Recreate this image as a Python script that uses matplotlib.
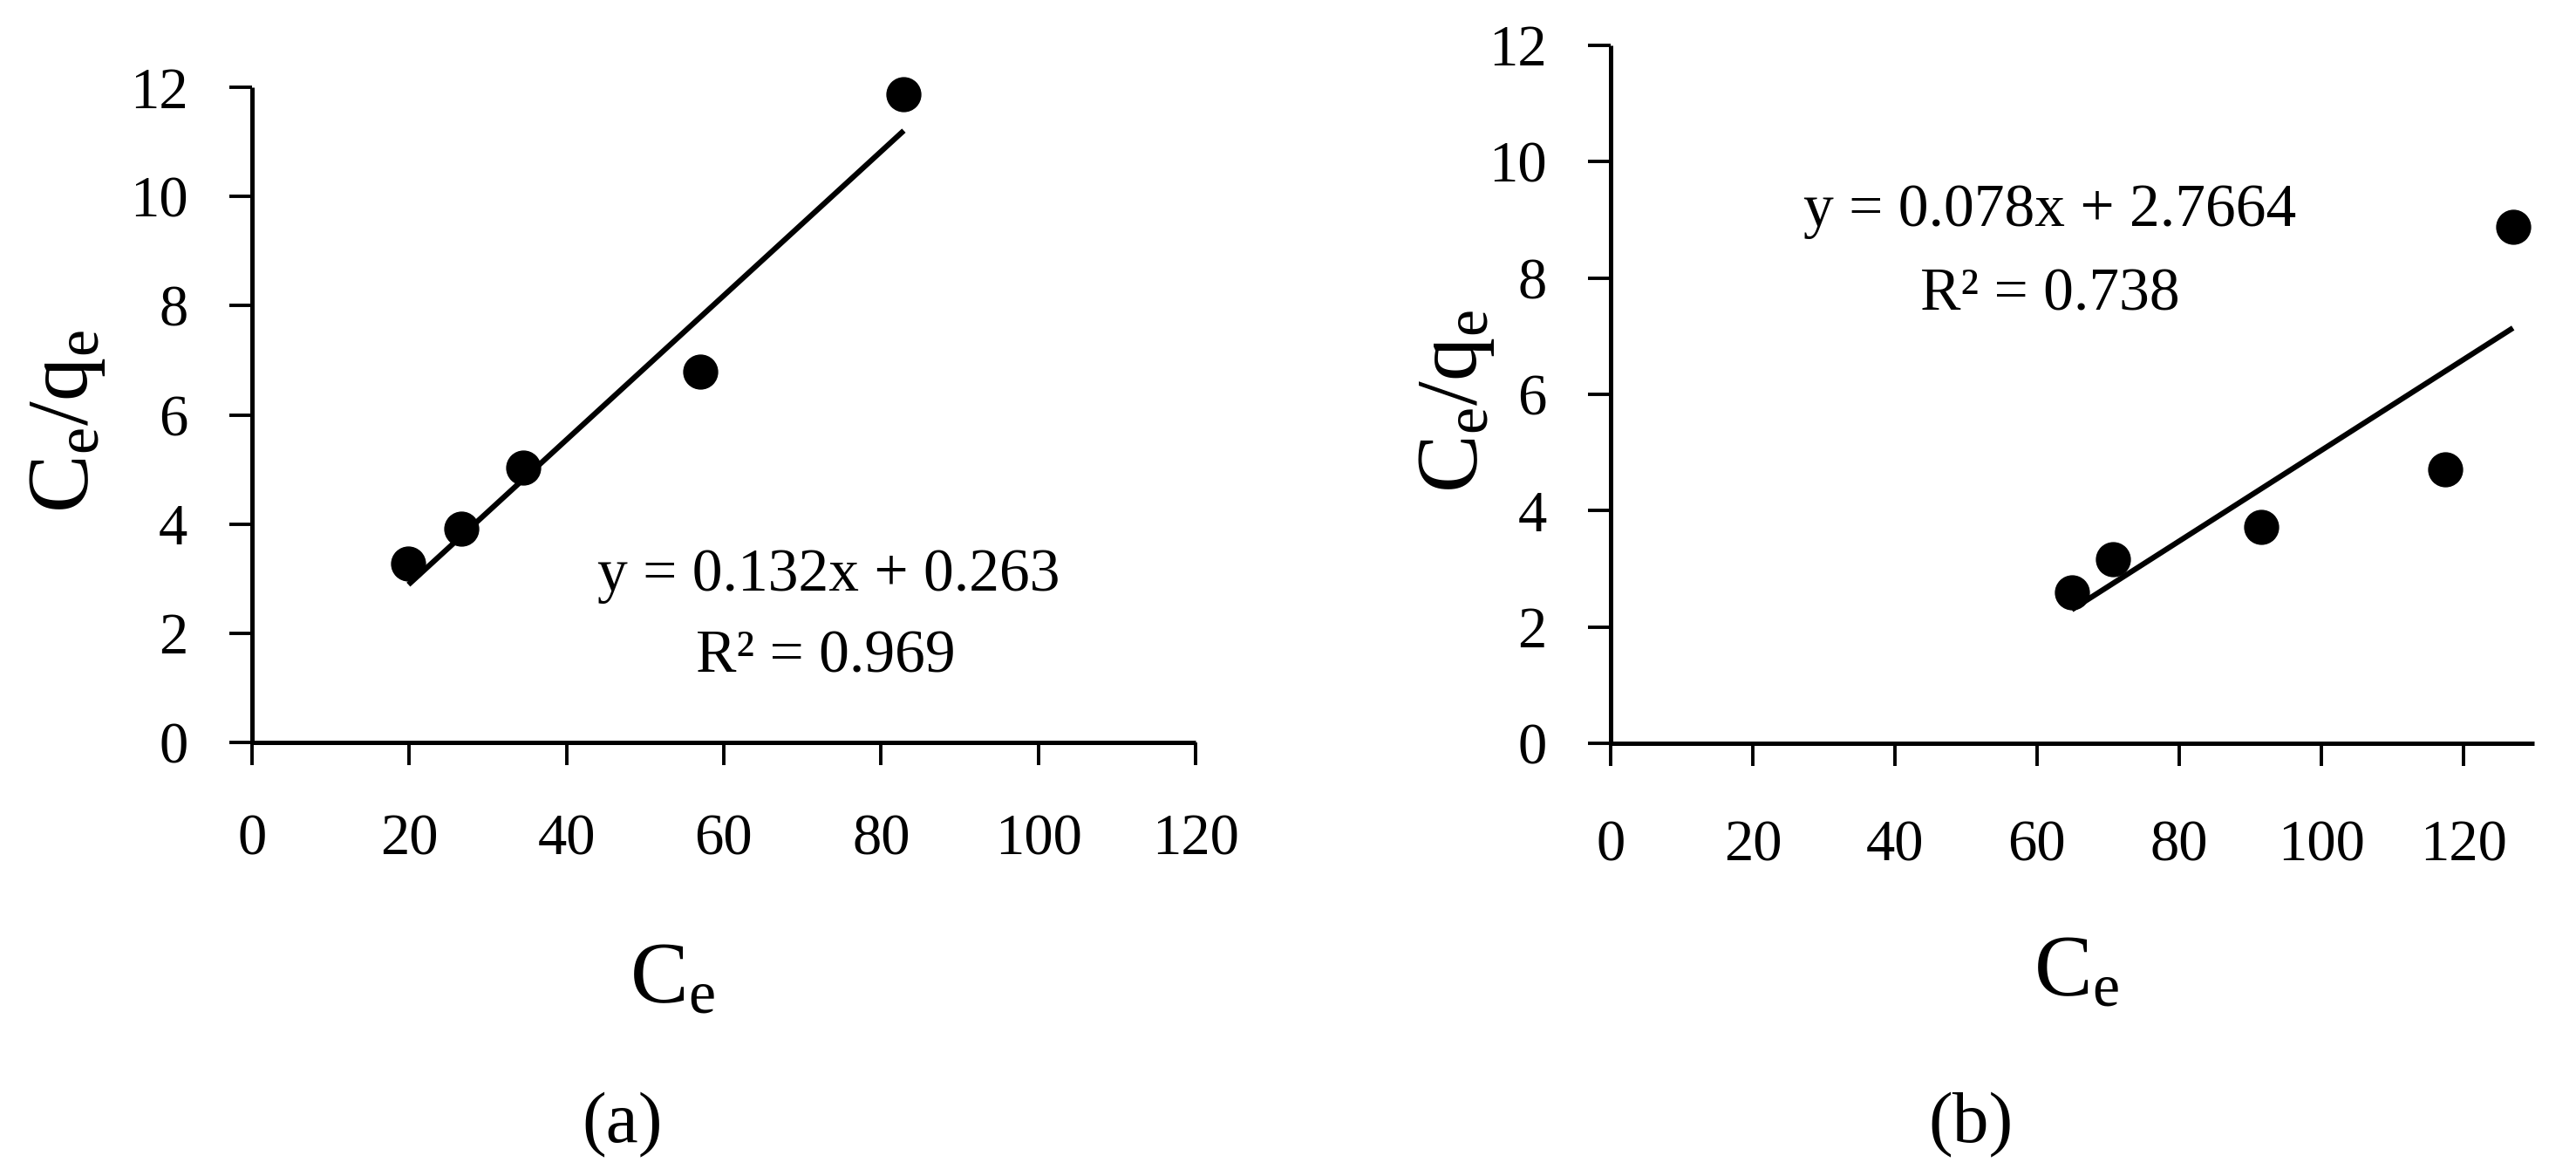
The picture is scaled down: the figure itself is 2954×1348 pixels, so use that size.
import numpy as np
import matplotlib
matplotlib.use("Agg")
import matplotlib.pyplot as plt

plt.rcParams["font.family"] = ["Liberation Serif", "DejaVu Serif"]

# panel (a)
ce_a = [19.9, 26.6, 34.5, 57.0, 82.9]
ratio_a = [3.28, 3.92, 5.03, 6.79, 11.88]
slope_a, icpt_a = 0.132, 0.263
eq_a = "y = 0.132x + 0.263"
r2_a = "R² = 0.969"

# panel (b)  (the printed intercept sign differs from the drawn trendline)
ce_b = [64.9, 70.75, 91.5, 117.5, 127.0]
ratio_b = [2.60, 3.17, 3.72, 4.71, 8.88]
slope_b, icpt_b = 0.078, -2.7664
eq_b = "y = 0.078x + 2.7664"
r2_b = "R² = 0.738"

x_ticks = [0, 20, 40, 60, 80, 100, 120]
y_ticks = [0, 2, 4, 6, 8, 10, 12]

fig = plt.figure(figsize=(29.54, 13.48), dpi=100)
ax_a = fig.add_axes([0.0978, 0.3687, 0.3663, 0.5571])
ax_b = fig.add_axes([0.6253, 0.3680, 0.3585, 0.5935])

panels = [
    (ax_a, ce_a, ratio_a, slope_a, icpt_a, eq_a, r2_a, 120,
     (73.3, 3.05), (73.0, 1.55), (0.446, -0.364), (-0.195, 0.49), 40),
    (ax_b, ce_b, ratio_b, slope_b, icpt_b, eq_b, r2_b, 130,
     (61.8, 9.15), (61.8, 7.7), (0.504, -0.331), (-0.167, 0.49), 44),
]

for (ax, xs, ys, m, c, eq, r2, xmax, eq_pos, r2_pos,
     xl_pos, yl_pos, xpad) in panels:
    xs = np.array(xs)
    ax.plot(xs, ys, "o", color="black", markersize=28, zorder=3,
            clip_on=False)
    xfit = np.array([xs.min(), xs.max()])
    ax.plot(xfit, m * xfit + c, color="black", linewidth=4.5, zorder=2,
            solid_capstyle="butt")

    ax.set_xlim(0, xmax)
    ax.set_ylim(0, 12)
    ax.set_xticks(x_ticks)
    ax.set_yticks(y_ticks)
    for side in ("top", "right"):
        ax.spines[side].set_visible(False)
    for side in ("left", "bottom"):
        ax.spines[side].set_linewidth(3.6)
        ax.spines[side].set_capstyle("butt")
    ax.tick_params(axis="both", direction="out", length=19, width=2.8,
                   labelsize=48, colors="black")
    ax.tick_params(axis="x", pad=xpad)
    ax.tick_params(axis="y", pad=34)

    ax.set_xlabel(r"$\mathregular{C_e}$", fontsize=72, va="center")
    ax.xaxis.set_label_coords(*xl_pos)
    ax.set_ylabel(r"$\mathregular{C_e/q_e}$", fontsize=72, va="center")
    ax.yaxis.set_label_coords(*yl_pos)

    ax.text(*eq_pos, eq, fontsize=50, ha="center", va="center")
    ax.text(*r2_pos, r2, fontsize=50, ha="center", va="center")

fig.text(0.2417, 0.043, "(a)", fontsize=60, ha="center", va="center")
fig.text(0.765, 0.043, "(b)", fontsize=60, ha="center", va="center")

fig.savefig("out.png", dpi=100, facecolor="white")
